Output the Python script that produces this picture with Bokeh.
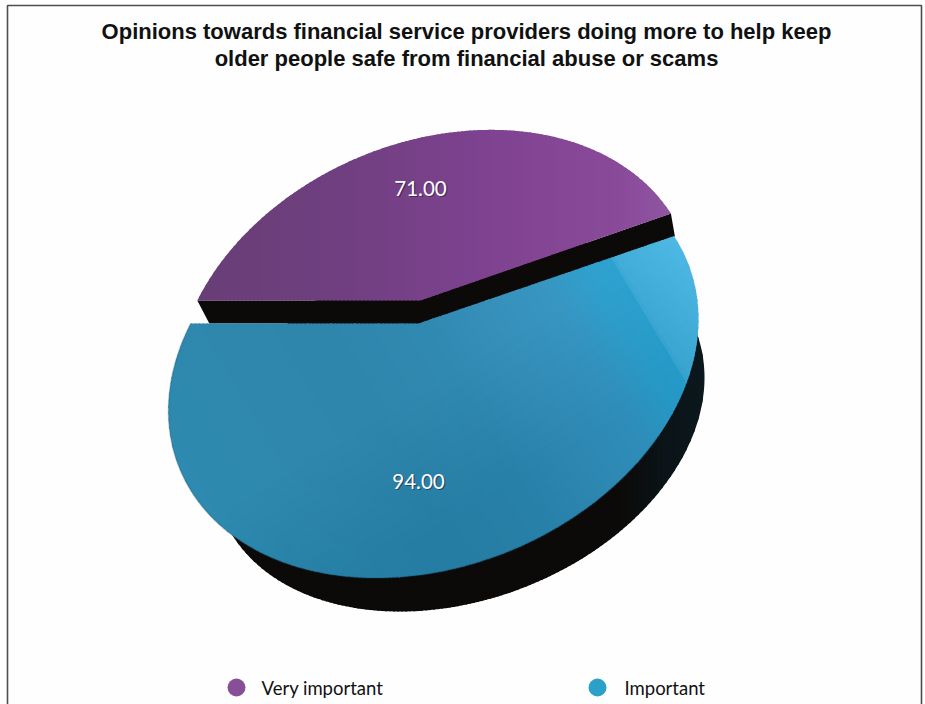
import numpy as np
from bokeh.core.properties import value
from bokeh.embed import file_html
from bokeh.plotting import figure
from bokeh.resources import INLINE

# Survey results
categories = ["Very important", "Important"]
responses = [71.0, 94.0]
title_lines = [
    "Opinions towards financial service providers doing more to help keep",
    "older people safe from financial abuse or scams",
]
legend_colors = ["#874f98", "#2ba0c8"]
purple_stops = [(190, "#683e76"), (330, "#6f3f7f"), (480, "#7e4290"), (620, "#8a4a9a"), (680, "#9058a2")]
blue_stops = [(-340, "#2e8ab0"), (-200, "#2f87ad"), (-100, "#2f86ad"), (0, "#3089b1"), (80, "#3690ba"),
              (150, "#3896c2"), (200, "#30a0ce"), (229, "#2da2d0"), (233, "#42acd8"), (300, "#4db8e4")]
base_stops = [(620, "#0c0a09"), (665, "#0b1418"), (705, "#0b181d")]

# Pie geometry in page pixels: an ellipse seen in perspective, apex off-centre
CX, CY, RX, RY, RHO = 433.0, 364.5, 265.0, 213.0, -0.215
APEX = np.array([418.0, 323.0])
LEFT_RIM = np.array([187.0, 323.0])
LIFT = np.array([2.0, -23.0])   # the smaller slice is pulled away from the larger
LIFT_SCALE = np.array([0.98, 0.995])
S = np.sqrt(1 - RHO ** 2)


def to_disc(pt):
    u = (pt[0] - CX) / RX
    v = ((pt[1] - CY) / RY - RHO * u) / S
    return complex(u, v)


def from_disc(w):
    x = CX + RX * w.real
    y = CY + RY * (RHO * w.real + S * w.imag)
    return np.column_stack([x, y])


a = to_disc(APEX)
p_disc = a / (1 + np.sqrt(1 - abs(a) ** 2))


def warp(theta):
    z = np.exp(1j * theta)
    return (z + p_disc) / (1 + np.conj(p_disc) * z)


def ray_hit(origin, target):
    # Where the ray from the apex through a rim anchor meets the unit circle
    d = target - origin
    A = abs(d) ** 2
    B = 2 * (origin.real * d.real + origin.imag * d.imag)
    C = abs(origin) ** 2 - 1
    s = (-B + np.sqrt(B * B - 4 * A * C)) / (2 * A)
    return origin + s * d


# True pie angle at which the first slice begins
w0 = ray_hit(a, to_disc(LEFT_RIM))
start = np.angle((w0 - p_disc) / (1 - np.conj(p_disc) * w0))
shares = np.array(responses) / sum(responses) * 2 * np.pi


def rim(a0, sweep, n=240):
    return from_disc(warp(np.linspace(a0, a0 + sweep, n)))


def clip(poly, nx, ny, lim, keep_above):
    out = []
    for i in range(len(poly)):
        c, d = poly[i], poly[(i + 1) % len(poly)]
        fc = c[0] * nx + c[1] * ny - lim
        fd = d[0] * nx + d[1] * ny - lim
        if not keep_above:
            fc, fd = -fc, -fd
        if fc >= 0:
            out.append(c)
        if (fc >= 0) != (fd >= 0):
            out.append(c + (d - c) * fc / (fc - fd))
    return out


def hex_rgb(h):
    return np.array([int(h[i:i + 2], 16) for i in (1, 3, 5)], float)


def ramp_rgb(stops, d):
    xs = [s[0] for s in stops]
    cols = np.array([hex_rgb(s[1]) for s in stops])
    return np.array([np.interp(d, xs, cols[:, i]) for i in range(3)])


def to_hex(rgb):
    return "#%02x%02x%02x" % tuple(int(round(c)) for c in np.clip(rgb, 0, 255))


def bands(poly, nx, ny, stops, step=4.0):
    d = poly[:, 0] * nx + poly[:, 1] * ny
    xs, ys, cs = [], [], []
    for lo in np.arange(d.min(), d.max(), step):
        piece = clip(list(poly), nx, ny, lo, True)
        if piece:
            piece = clip(piece, nx, ny, lo + step + 1.5, False)
        if len(piece) >= 3:
            arr = np.array(piece)
            xs.append(arr[:, 0].tolist())
            ys.append(arr[:, 1].tolist())
            cs.append(to_hex(ramp_rgb(stops, lo + step / 2)))
    return xs, ys, cs


def blue_cells(poly, step_d=4.0, step_e=14.0):
    # Shading across the face runs along d; it deepens towards the lower edge along e
    NX, NY = 1.0, -0.6
    EX, EY = 0.6, 1.0
    d0 = APEX[0] + 2 - 0.6 * APEX[1]
    e0 = 0.6 * (APEX[0] + 2) + APEX[1]
    d = poly[:, 0] * NX + poly[:, 1] * NY - d0
    e = poly[:, 0] * EX + poly[:, 1] * EY - e0
    xs, ys, cs = [], [], []
    for lo in np.arange(d.min(), d.max(), step_d):
        strip = clip(list(poly), NX, NY, lo + d0, True)
        if strip:
            strip = clip(strip, NX, NY, lo + d0 + step_d + 1.2, False)
        if len(strip) < 3:
            continue
        col = ramp_rgb(blue_stops, lo + step_d / 2)
        for le in np.arange(e.min(), e.max(), step_e):
            cell = clip(strip, EX, EY, le + e0, True)
            if cell:
                cell = clip(cell, EX, EY, le + e0 + step_e + 1.2, False)
            if len(cell) >= 3:
                arr = np.array(cell)
                xs.append(arr[:, 0].tolist())
                ys.append(arr[:, 1].tolist())
                deepen = 0.06 * np.clip(le + step_e / 2 - 65, 0, 150)
                cs.append(to_hex(col - deepen))
    return xs, ys, cs


p = figure(width=925, height=704, x_range=(0, 925), y_range=(704, 0),
           output_backend="svg", toolbar_location=None, min_border=0)
p.axis.visible = False
p.grid.visible = False
p.outline_line_color = None
p.background_fill_color = "#fefefe"
p.border_fill_color = "#ffffff"

# Frame open at the bottom
p.line([7, 7, 921, 921], [704, 5, 5, 704], line_color="#4d4d4d", line_width=1.6)

# Title
p.text([466, 466], [31, 58], text=title_lines, text_align="center", text_baseline="middle",
       text_font=value("Liberation Sans"), text_font_style="bold", text_font_size="22px",
       text_color="#111111")

# Thick base under the larger slice
t = np.linspace(0, 2 * np.pi, 360)
BRHO = -0.24
base_poly = np.column_stack([458.5 + 245.5 * np.cos(t),
                             422.3 + 188.7 * (BRHO * np.cos(t) + np.sqrt(1 - BRHO ** 2) * np.sin(t))])
xs, ys, cs = bands(base_poly, 1.0, 0.0, base_stops)
p.patches(xs, ys, fill_color=cs, line_color=None)

# Rims of both slices
purple_rim = rim(start, shares[0])
blue_rim = rim(start + shares[0], shares[1])
purple_apex = APEX + LIFT
purple_pts = purple_apex + (purple_rim - APEX) * LIFT_SCALE
purple_poly = np.vstack([purple_apex, purple_pts])
blue_poly = np.vstack([APEX, blue_rim])

# Cut faces of the lifted slice
l_pt, r_pt = purple_pts[0], purple_pts[-1]
p.patch([l_pt[0], purple_apex[0], r_pt[0], r_pt[0] + 4, APEX[0], l_pt[0] + 12],
        [l_pt[1], purple_apex[1], r_pt[1], r_pt[1] + 23, APEX[1], l_pt[1] + 23],
        fill_color="#0c0a09", line_color=None)

# Slices drawn as small colour cells so the shading runs across each face
xs, ys, cs = bands(purple_poly, 1.0, 0.0, purple_stops)
p.patches(xs, ys, fill_color=cs, line_color=None)
xs, ys, cs = blue_cells(blue_poly)
p.patches(xs, ys, fill_color=cs, line_color=None)

# Soft darker edge where the larger slice meets its base
p.line(blue_rim[60:, 0], blue_rim[60:, 1], line_color="#17506b", line_width=1.5, line_alpha=0.3)

# Value labels with a small drop shadow
val_labels = ["%.2f" % v for v in responses]
lab_x, lab_y = [420, 418], [188, 481]
p.text([x + 1.2 for x in lab_x], [y + 1.2 for y in lab_y], text=val_labels, text_align="center",
       text_baseline="middle", text_font=value("Lato"), text_font_size="20.5px",
       text_color="#1a1a2a", text_alpha=0.55)
p.text(lab_x, lab_y, text=val_labels, text_align="center", text_baseline="middle",
       text_font=value("Lato"), text_font_size="20.5px", text_color="#ffffff")

# Legend row
p.scatter([236, 597], [687, 687], size=18, fill_color=legend_colors, line_color=None)
p.text([261, 624], [687, 687], text=categories, text_align="left", text_baseline="middle",
       text_font=value("Lato"), text_font_size="18.5px", text_color="#111111")

open("out.html", "w").write(file_html(p, INLINE))
